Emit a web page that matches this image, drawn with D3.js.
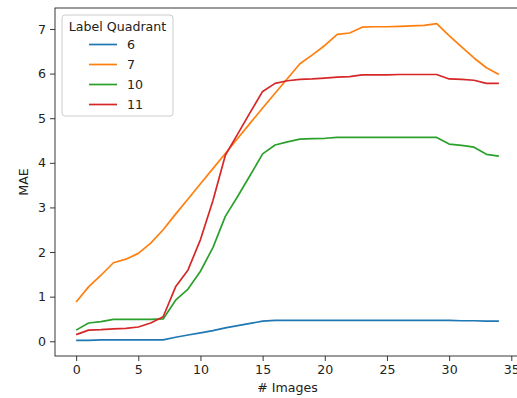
<!DOCTYPE html>
<html>
<head>
<meta charset="utf-8">
<script src="https://cdn.jsdelivr.net/npm/d3@7"></script>
<style>
  body { margin: 0; background: #fff; }
  svg { display: block; font-family: "DejaVu Sans", sans-serif; }
</style>
</head>
<body>
<div id="chart"></div>
<script>
let width = 517
let height = 398
let fontSize = 12.6

let images = d3.range(0, 35)
let quadrants = ['6', '7', '10', '11']
let colors = ['#1f77b4', '#ff7f0e', '#2ca02c', '#d62728']

let mae6 = [0.02, 0.02, 0.03, 0.03, 0.03, 0.03, 0.03, 0.03, 0.09, 0.14, 0.19, 0.24, 0.30, 0.35, 0.40, 0.45, 0.47,
    0.47, 0.47, 0.47, 0.47, 0.47, 0.47, 0.47, 0.47, 0.47, 0.47, 0.47, 0.47, 0.47, 0.47, 0.46, 0.46, 0.45, 0.45]
let mae7 = [0.88, 1.22, 1.48, 1.76, 1.84, 1.97, 2.2, 2.5, 2.85, 3.19, 3.53, 3.87, 4.21, 4.55, 4.89, 5.23, 5.56,
    5.89, 6.22, 6.42, 6.63, 6.88, 6.91, 7.04, 7.05, 7.05, 7.06, 7.07, 7.08, 7.12, 6.85, 6.6, 6.35, 6.13, 5.98]
let mae10 = [0.25, 0.41, 0.44, 0.49, 0.49, 0.49, 0.49, 0.50, 0.92, 1.17, 1.57, 2.1, 2.8, 3.25, 3.72, 4.2, 4.40,
    4.47, 4.53, 4.54, 4.55, 4.57, 4.57, 4.57, 4.57, 4.57, 4.57, 4.57, 4.57, 4.57, 4.42, 4.39, 4.35, 4.19, 4.15]
let mae11 = [0.15, 0.25, 0.26, 0.28, 0.29, 0.32, 0.41, 0.55, 1.22, 1.6, 2.28, 3.15, 4.17, 4.65, 5.13, 5.6, 5.78,
    5.84, 5.87, 5.88, 5.9, 5.92, 5.93, 5.97, 5.97, 5.97, 5.98, 5.98, 5.98, 5.98, 5.88, 5.87, 5.85, 5.78, 5.78]
let series = [mae6, mae7, mae10, mae11]

let xTicks = [0, 5, 10, 15, 20, 25, 30, 35]
let yTicks = [0, 1, 2, 3, 4, 5, 6, 7]

let margin = { left: 55, top: 8, right: -3, bottom: 42 }

let x = d3.scaleLinear()
    .domain([-1.7, 35.7])
    .range([margin.left, width - margin.right])

let y = d3.scaleLinear()
    .domain([-0.33, 7.47])
    .range([height - margin.bottom, margin.top])

const svg = d3.select("#chart").append("svg")
    .attr("width", width)
    .attr("height", height)

// lines
let line = d3.line()
    .x((d, i) => x(images[i]))
    .y(d => y(d))

svg.append("g")
    .selectAll("path")
    .data(series)
    .join("path")
    .attr("fill", "none")
    .attr("stroke", (d, i) => colors[i])
    .attr("stroke-width", 1.7)
    .attr("stroke-linejoin", "round")
    .attr("d", line)

// axes
let xAxis = svg.append("g")
    .attr("transform", `translate(0,${height - margin.bottom})`)
    .call(d3.axisBottom(x).tickValues(xTicks).tickSize(5).tickPadding(4))
let yAxis = svg.append("g")
    .attr("transform", `translate(${margin.left},0)`)
    .call(d3.axisLeft(y).tickValues(yTicks).tickSize(5).tickPadding(4))

for (let ax of [xAxis, yAxis]) {
    ax.select(".domain").remove()
    ax.selectAll("text").attr("font-size", fontSize).attr("fill", "#222").attr("font-family", "DejaVu Sans")
    ax.selectAll("line").attr("stroke", "#222").attr("stroke-width", 0.9)
}

// frame
svg.append("rect")
    .attr("x", margin.left)
    .attr("y", margin.top)
    .attr("width", width - margin.right - margin.left)
    .attr("height", height - margin.bottom - margin.top)
    .attr("fill", "none")
    .attr("stroke", "#222")
    .attr("stroke-width", 0.9)

// axis labels
svg.append("text")
    .attr("x", (margin.left + width - margin.right) / 2)
    .attr("y", 392)
    .attr("text-anchor", "middle")
    .attr("font-size", fontSize)
    .attr("fill", "#222")
    .text("# Images")

svg.append("text")
    .attr("transform", `translate(28,${(margin.top + height - margin.bottom) / 2}) rotate(-90)`)
    .attr("text-anchor", "middle")
    .attr("font-size", fontSize)
    .attr("fill", "#222")
    .text("MAE")

// legend
let legend = svg.append("g").attr("transform", "translate(62,15)")
legend.append("rect")
    .attr("width", 111)
    .attr("height", 101)
    .attr("rx", 3)
    .attr("fill", "white")
    .attr("fill-opacity", 0.8)
    .attr("stroke", "#ccc")
legend.append("text")
    .attr("x", 55.5)
    .attr("y", 15.5)
    .attr("text-anchor", "middle")
    .attr("font-size", fontSize)
    .attr("fill", "#222")
    .text("Label Quadrant")

let item = legend.selectAll("g.item")
    .data(quadrants)
    .join("g")
    .attr("class", "item")
    .attr("transform", (d, i) => `translate(0,${29.5 + i * 20})`)
item.append("line")
    .attr("x1", 27).attr("x2", 55)
    .attr("stroke", (d, i) => colors[i])
    .attr("stroke-width", 1.7)
item.append("text")
    .attr("x", 65)
    .attr("dy", "0.35em")
    .attr("font-size", fontSize)
    .attr("fill", "#222")
    .text(d => d)
</script>
</body>
</html>
